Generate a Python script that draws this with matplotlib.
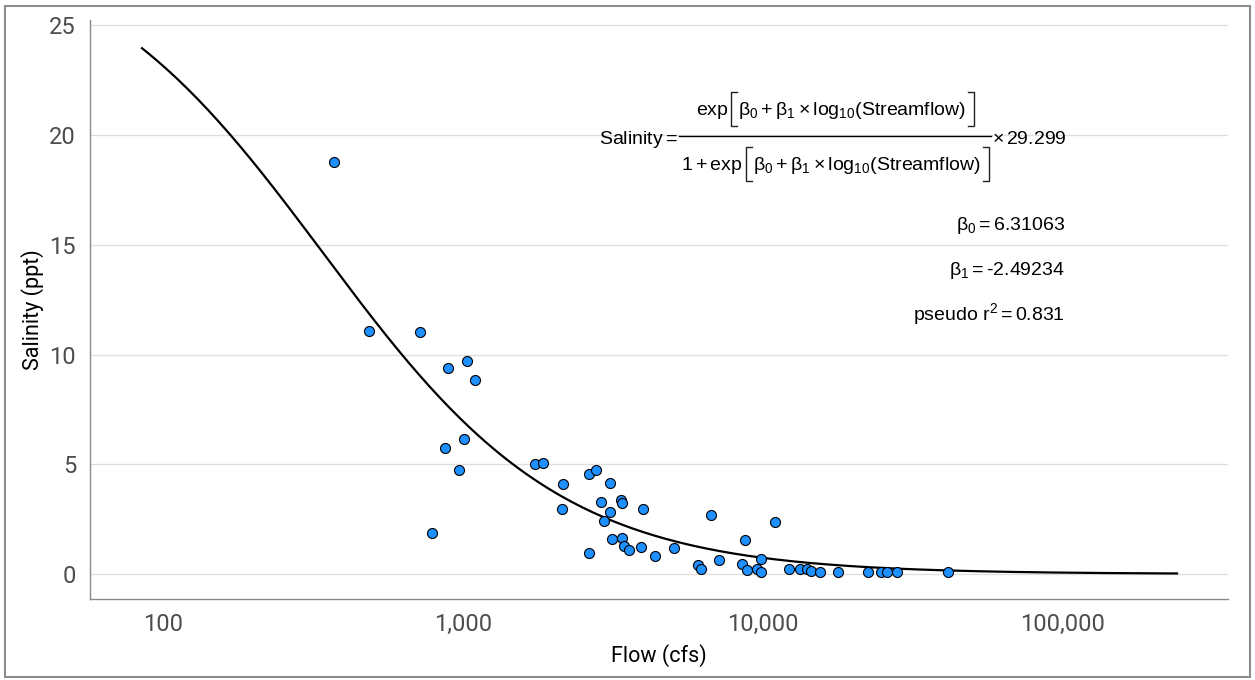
import numpy as np
import matplotlib
matplotlib.use("Agg")
import matplotlib.pyplot as plt
from matplotlib.ticker import FuncFormatter, NullLocator
from matplotlib.patches import Rectangle
from matplotlib.lines import Line2D

# Observed flow (cfs) and salinity (ppt)
flow = [370, 486, 719, 890, 1028, 1096, 871, 1008, 970, 790,
        1730, 1853, 2624, 2768, 2145, 3097, 2885, 3362, 3388, 3990,
        2138, 3090, 2950, 3140, 3388, 3443, 3567, 3918, 4376, 5050,
        2630, 6710, 10990, 8730, 6050, 6210, 7110, 8490, 8870, 9570,
        9850, 9850, 12190, 13280, 13990, 14490, 15530, 17780, 22430, 24680,
        25880, 27980, 41380]
salinity = [18.76, 11.06, 11.01, 9.41, 9.73, 8.85, 5.73, 6.17, 4.73, 1.88,
            5.01, 5.05, 4.56, 4.73, 4.12, 4.15, 3.30, 3.39, 3.23, 2.95,
            2.97, 2.82, 2.42, 1.59, 1.62, 1.29, 1.09, 1.24, 0.82, 1.17,
            0.97, 2.71, 2.35, 1.56, 0.39, 0.24, 0.64, 0.47, 0.18, 0.24,
            0.68, 0.11, 0.24, 0.24, 0.24, 0.15, 0.09, 0.11, 0.11, 0.08,
            0.11, 0.08, 0.11]

# Fitted logistic model
b0 = 6.31063
b1 = -2.49234
smax = 29.299
r2 = 0.831
curve_range = [85, 240000]

x_ticks = [100, 1000, 10000, 100000]
y_ticks = [0, 5, 10, 15, 20, 25]

plt.rcParams['mathtext.fontset'] = 'custom'
plt.rcParams['mathtext.rm'] = 'Liberation Sans'
plt.rcParams['mathtext.it'] = 'Liberation Sans:italic'
plt.rcParams['mathtext.bf'] = 'Liberation Sans:bold'

tick_font = ['Roboto', 'DejaVu Sans']
W, H = 1255, 680

fig = plt.figure(figsize=(12.55, 6.8), dpi=100)
ax = fig.add_axes([0.0717, 0.1191, 0.9068, 0.8515])

q = np.logspace(np.log10(curve_range[0]), np.log10(curve_range[1]), 300)
z = np.exp(b0 + b1 * np.log10(q))
ax.plot(q, z / (1 + z) * smax, color='black', lw=1.6, zorder=2)

ax.scatter(flow, salinity, s=52, color='#1E90FF', edgecolor='black',
           linewidth=0.8, zorder=3)

ax.set_xscale('log')
ax.set_xlim(57, 355000)
ax.set_ylim(-1.14, 25.25)
ax.set_xticks(x_ticks)
ax.xaxis.set_minor_locator(NullLocator())
ax.xaxis.set_major_formatter(FuncFormatter(lambda v, p: f"{v:,.0f}"))
ax.set_yticks(y_ticks)

ax.grid(axis='y', color='#dedede', lw=0.9)
ax.set_axisbelow(True)
for s in ['top', 'right']:
    ax.spines[s].set_visible(False)
for s in ['left', 'bottom']:
    ax.spines[s].set_color('#8a8a8a')
    ax.spines[s].set_linewidth(1.0)
ax.tick_params(length=0, pad=10, labelsize=17, labelcolor='#4d4d4d')
for lab in ax.get_xticklabels() + ax.get_yticklabels():
    lab.set_family(tick_font)

ax.set_xlabel("Flow (cfs)", fontsize=15.5, family=tick_font, labelpad=6)
ax.set_ylabel("Salinity (ppt)", fontsize=15.5, family=tick_font, labelpad=4)

# ---- model annotation (pixel layout, top-left origin) ----
fs = 14
renderer = fig.canvas.get_renderer()


def put(px, py, s, ha='left'):
    return fig.text(px / W, 1 - py / H, s, ha=ha, va='baseline', fontsize=fs,
                    family='Liberation Sans')


def text_w(s):
    t = put(0, 0, s)
    w = t.get_window_extent(renderer).width
    t.remove()
    return w


def bracket(px, base, side):
    top, bot = base - 23, base + 11
    d = 6 if side == 'left' else -6
    xs = [px + d, px, px, px + d]
    ys = [top, top, bot, bot]
    fig.add_artist(Line2D([x / W for x in xs], [1 - y / H for y in ys],
                          color='#222222', lw=1.0))


inner = (r"$\mathrm{\beta}_0 + \mathrm{\beta}_1 \times "
         r"\mathrm{log}_{10}(\mathrm{Streamflow})$")
w_in = text_w(inner)
xc = 835
ends = []
for lead, base in [(r"$\mathrm{exp}$", 115), (r"$1 + \mathrm{exp}$", 170)]:
    w_lead = text_w(lead)
    total = w_lead + 3 + 7 + w_in + 8
    x0 = xc - total / 2
    put(x0, base, lead)
    bx = x0 + w_lead + 3
    bracket(bx, base, 'left')
    put(bx + 7, base, inner)
    bracket(bx + 7 + w_in + 8, base, 'right')
    ends.append((x0, bx + 7 + w_in + 8))

line_x0 = min(e[0] for e in ends) - 2
line_x1 = max(e[1] for e in ends) + 2
fig.add_artist(Line2D([line_x0 / W, line_x1 / W], [1 - 136 / H] * 2,
                      color='black', lw=1.0))
put(line_x0 - 2, 144, r"$\mathrm{Salinity} =$", ha='right')
put(line_x1 + 1, 144, r"$\times\,$29.299")

put(1065, 230, r"$\mathrm{\beta}_0 = \text{%s}$" % b0, ha='right')
put(1065, 275, r"$\mathrm{\beta}_1 = \text{%s}$" % b1, ha='right')
put(1065, 320, r"$\text{pseudo }\mathrm{r}^2 = \text{%s}$" % r2, ha='right')

fig.patches.append(Rectangle((0.004, 0.004), 0.992, 0.987, transform=fig.transFigure,
                             fill=False, ec='#8c8c8c', lw=1.5))

fig.savefig("out.png", dpi=100)
